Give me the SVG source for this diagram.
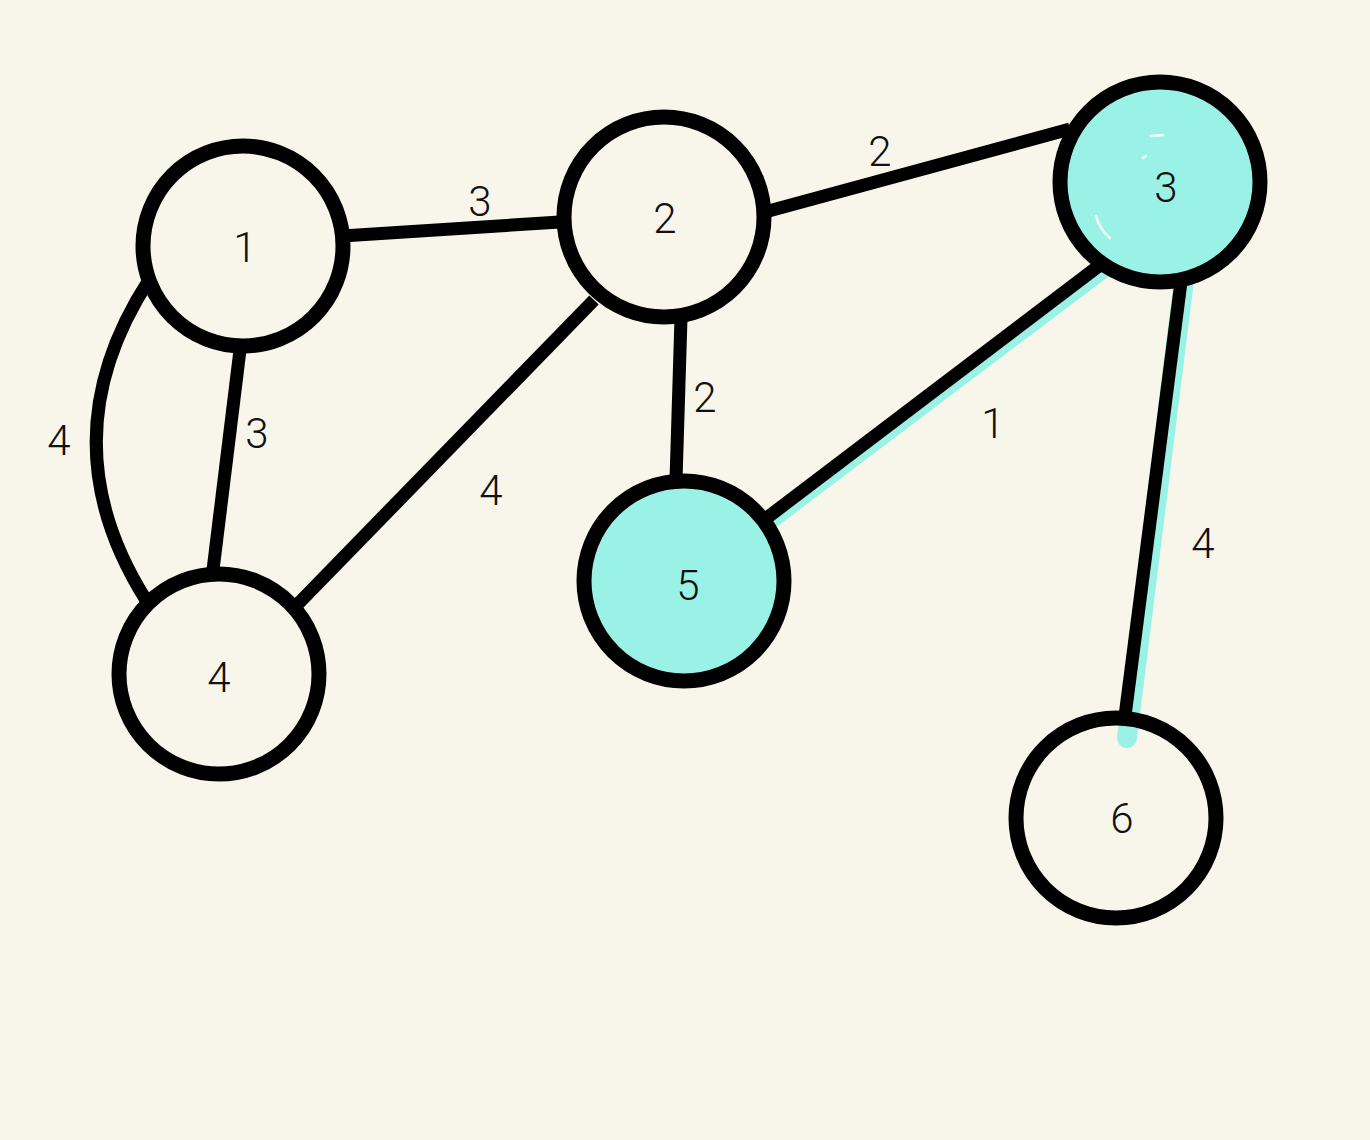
<svg xmlns="http://www.w3.org/2000/svg" width="1370" height="1140" viewBox="0 0 1370 1140">
<style>
.bg{fill:#f8f6eb}
.edge{stroke:#000;stroke-width:13;fill:none;stroke-linecap:butt}
.hl{stroke:#9af2e6;fill:none;stroke-linecap:round}
.ring{stroke:#000;stroke-width:15;fill:none}
.plain{fill:none}
.sel{fill:#9af2e6}
.gloss{stroke:#fff;stroke-width:2.5;fill:none;stroke-linecap:round;opacity:0.9}
text{font-family:"Roboto","Liberation Sans",sans-serif;font-weight:300;font-size:42px;fill:#111;text-anchor:middle}
</style>
<rect class="bg" x="0" y="0" width="1370" height="1140"/>
<g id="connectors">
  <line class="hl" x1="762" y1="531" x2="1108" y2="270" stroke-width="11"/>
  <line class="hl" x1="1185" y1="272" x2="1127" y2="738" stroke-width="20"/>
  <line class="edge" x1="342" y1="236" x2="560" y2="222"/>
  <line class="edge" x1="765" y1="212" x2="1070" y2="129"/>
  <line class="edge" x1="240" y1="350" x2="213" y2="570"/>
  <path class="edge" d="M149 280 Q45 440 146 600"/>
  <line class="edge" x1="594" y1="300" x2="296" y2="606"/>
  <line class="edge" x1="681" y1="318" x2="676" y2="480"/>
  <line class="edge" x1="1100" y1="265" x2="764" y2="520"/>
  <line class="edge" x1="1181" y1="282" x2="1125" y2="716"/>
  <text x="480" y="216">3</text>
  <text x="880" y="166">2</text>
  <text x="257" y="448">3</text>
  <text x="59" y="455">4</text>
  <text x="491" y="505">4</text>
  <text x="705" y="412">2</text>
  <text x="993" y="438">1</text>
  <text x="1203" y="558">4</text>
</g>
<g id="node1">
  <circle class="ring" cx="243" cy="246" r="100"/>
  <text x="245" y="262">1</text>
</g>
<g id="node2">
  <circle class="ring" cx="664" cy="217" r="100"/>
  <text x="665" y="233">2</text>
</g>
<g id="node3">
  <circle class="sel" cx="1160" cy="182" r="100"/>
  <path class="gloss" d="M1151 136 L1163 135"/>
  <path class="gloss" d="M1143 158 L1146 156"/>
  <path class="gloss" d="M1096 216 Q1100 230 1110 238"/>
  <circle class="ring" cx="1160" cy="182" r="100"/>
  <text x="1166" y="202">3</text>
</g>
<g id="node4">
  <circle class="ring" cx="219" cy="674" r="100"/>
  <text x="219" y="692">4</text>
</g>
<g id="node5">
  <circle class="sel" cx="680" cy="585" r="100"/>
  <circle class="ring" cx="684" cy="581" r="100"/>
  <text x="688" y="600">5</text>
</g>
<g id="node6">
  <circle class="ring" cx="1116" cy="818" r="100"/>
  <text x="1122" y="833">6</text>
</g>
</svg>
